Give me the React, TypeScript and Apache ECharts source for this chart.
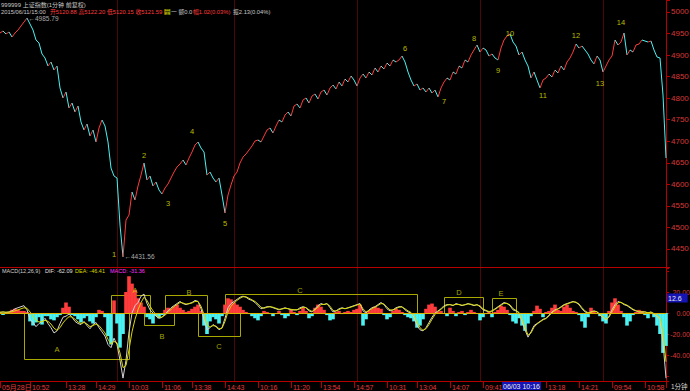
import React, { useEffect, useRef } from 'react';
import * as echarts from 'echarts';

// ---- price (1-minute closes, sampled) ----
const closes = [
  4951.2,4955.9,4948.9,4953.5,4941.9,4951.2,4958.2,4967.5,4976.7,4985.79,
  4972.1,4958.2,4935.0,4928.0,4902.5,4893.2,4874.6,4883.9,4865.3,4874.6,
  4823.6,4800.4,4814.3,4777.2,4788.8,4767.9,4781.8,4744.7,4726.1,4740.0,
  4712.2,4726.1,4698.3,4730.8,4749.3,4735.4,4698.3,4637.9,4619.4,4614.7,
  4505.6,4431.56,4517.2,4528.8,4582.2,4563.7,4596.2,4621.5,4649.5,4610.1,
  4619.4,4596.2,4605.4,4586.9,4577.6,4591.5,4600.8,4614.7,4628.6,4640.3,
  4647.2,4656.5,4644.9,4661.1,4675.1,4691.3,4698.3,4684.3,4675.1,4621.5,
  4628.6,4614.7,4605.4,4614.7,4575.3,4533.5,4575.3,4598.5,4619.4,4628.6,
  4649.5,4663.3,4670.5,4679.7,4689.0,4700.6,4702.9,4698.3,4712.2,4726.1,
  4730.8,4719.2,4735.4,4749.3,4744.7,4760.9,4767.9,4758.6,4781.8,4786.4,
  4777.2,4795.7,4800.4,4788.8,4805.0,4809.6,4798.0,4814.3,4818.9,4807.3,
  4823.6,4830.5,4821.3,4837.5,4828.2,4844.5,4837.5,4851.4,4842.1,4828.2,
  4846.8,4856.1,4846.8,4860.7,4853.7,4870.0,4860.7,4874.6,4867.7,4881.6,
  4874.6,4888.6,4883.9,4888.6,4897.8,4883.9,4860.7,4842.1,4828.2,4832.9,
  4818.9,4823.6,4814.3,4823.6,4812.0,4818.9,4802.7,4823.6,4837.5,4846.8,
  4842.1,4860.7,4856.1,4874.6,4870.0,4888.6,4883.9,4900.2,4911.8,4923.4,
  4907.1,4916.4,4911.8,4897.8,4902.5,4893.2,4888.6,4916.4,4935.0,4944.3,
  4948.9,4930.3,4921.0,4900.2,4907.1,4888.6,4874.6,4846.8,4860.7,4842.1,
  4823.6,4842.1,4846.8,4856.1,4849.1,4865.3,4858.4,4874.6,4865.3,4883.9,
  4893.2,4907.1,4925.7,4916.4,4921.0,4911.8,4902.5,4888.6,4879.3,4897.8,
  4888.6,4860.7,4874.6,4888.6,4897.8,4935.0,4923.4,4930.3,4951.2,4900.2,
  4911.8,4907.1,4923.4,4925.7,4935.0,4932.6,4930.3,4932.6,4911.8,4895.5,
  4893.2,4807.3,4661.1,
];

// ---- MACD(12,26,9) ----
const dif = [
  0.5,1,0.5,1,2,4,5,6,7,3,
  -6,-9,-13,-10,-8,-5,-10,-14,-19,-17,
  -10,-4,-3,-1,-4,-8,-10,-11,-8,-12,
  -15,-11,-9,-14,-18,-22,-30,-33,-24,-30,
  -45,-62,-45,-18,0,7,10,16,18,9,
  3,0,-3,-5,-4,-1,2,5,7,9,
  11,9,8,9,10,12,11,4,-6,-16,
  -14,-11,-13,-16,-14,-5,5,9,11,13,
  15,16,15,13,12,10,7,4,5,6,
  6,5,4,3,4,5,4,3,3,3,
  5,6,5,2,1,4,7,9,8,9,
  5,1,2,4,5,4,5,6,7,8,
  9,2,0,3,5,6,8,10,8,4,
  2,3,5,6,6,3,1,0,-4,-12,
  -16,-17,-14,-9,-4,0,2,4,7,8,
  8,7,9,8,7,8,9,8,7,8,
  6,3,2,1,2,4,6,8,10,9,
  7,3,2,0,-8,-16,-23,-18,-12,-10,
  -8,-6,-5,-2,1,3,4,6,8,9,
  10,11,10,8,4,1,0,1,2,1,
  -2,-4,-7,-3,3,8,11,10,8,7,
  5,3,2,1,1,1,0,1,-1,-3,
  -6,-28,-62.09,
];
const dea = [
  0.8,0.9,0.8,0.9,1.2,2,3,4,5,4.5,
  1,-3,-7,-8.5,-8.3,-7,-8,-10.5,-14.5,-16.5,
  -14,-9.5,-6,-3.5,-3.8,-6,-8.5,-10,-9,-10.5,
  -13,-12,-10.5,-12,-15.5,-19,-25,-29.5,-27,-28.5,
  -38,-52,-50,-35,-18,-6,3,10,15,12,
  6.5,2,-1.5,-4,-4,-2,0.5,3.5,6,8,
  10,9.5,8.5,8.8,9.5,11,11,6.5,-1.5,-11,
  -13.5,-12,-12.5,-15,-14.5,-8,1,6.5,9.5,12,
  14,15.5,15.5,14,12.5,11,8.5,5.5,4.5,5.5,
  6,5.5,4.5,3.5,3.8,4.5,4.2,3.5,3,3,
  4,5.5,5.2,3,1.5,3,5.5,8,8.2,8.8,
  6.5,2.5,1.8,3.2,4.6,4.2,4.8,5.6,6.6,7.6,
  8.6,4,1,2.2,4.2,5.5,7.2,9,8.5,5.5,
  3,2.8,4.2,5.5,5.8,4,2,0.5,-2.5,-8.5,
  -14,-16.5,-15,-11,-6,-1.5,1.5,3.5,6,7.5,
  8,7.4,8.2,8.2,7.4,7.8,8.6,8.4,7.4,7.8,
  6.8,4,2.5,1.4,1.8,3.4,5.4,7.4,9.2,9.2,
  7.8,4.2,2.4,0.6,-6,-13.5,-21,-19,-13.5,-10.5,
  -8.5,-6.5,-5.3,-2.8,0.2,2.4,3.8,5.4,7.4,8.6,
  9.6,10.6,10.4,8.6,5,2,0.3,0.6,1.7,1.2,
  -1,-3.4,-6,-4,1,6,9.8,10.2,8.6,7.5,
  5.6,3.6,2.2,1.2,1,1,0.3,0.8,-0.5,-2.2,
  -4.8,-18,-46.41,
];
const macdHist = [
  -1,-2,-1,1,3,4,3,2,2,1,
  -8,-12,-9,-4,-11,-3,-3,-6,-7,-4,
  -2,5,10,6,-2,-3,-6,-9,-5,-3,
  -8,-10,-4,3,2,-4,-22,-30,12,-10,
  -33,-20,20,35,28,22,14,10,6,-4,
  -6,-10,-3,-5,-2,3,5,4,6,8,
  5,3,1,2,4,6,8,2,-12,-20,
  -8,-4,-6,-10,-3,8,14,13,10,8,
  6,3,1,-1,-3,-5,-7,-3,2,1,
  -1,-3,-1,2,-2,-5,-3,3,1,-2,
  2,5,2,-5,-3,5,8,6,3,-2,
  -7,-6,1,2,-1,1,2,1,3,4,
  8,-12,-6,2,4,6,5,4,-2,-6,
  -4,2,4,3,1,-2,-4,-5,-8,-14,
  -12,-6,4,8,9,6,1,2,0,-3,
  5,2,-3,1,2,-2,1,3,1,-1,
  -7,-4,-1,1,-4,1,3,7,6,3,
  -2,-8,-10,-5,-12,-17,-10,-3,2,7,
  4,-4,1,2,5,8,3,2,6,8,
  5,2,1,-2,-8,-14,-4,5,2,-1,
  -3,-8,-10,2,10,14,8,2,-4,-12,
  -8,-2,1,3,2,-2,-5,-1,-4,-12,
  -20,-38,-31.36,
];

// ---- time axis ----
const timeLabelIdx = [0,10,22,32,43,54,64,75,86,97,107,118,129,139,150,161,182,193,204,215];
const timeLabelText = ['05月28日','10:52','13:28','14:29','10:03','11:06','13:38','14:43','10:16','11:20','13:54','14:57','10:31','13:04','14:07','09:41','13:18','14:21','09:54','10:58'];
const dayBreakIdx = [39, 78, 119, 160, 201];

// ---- wave count annotations ----
const waveText = ['1','2','3','4','5','6','7','8','9','10','11','12','13','14'];
const waveIdx = [38,48,56,64,75,135,148,158,166,170,181,192,200,207];
const waveVal = [4438.3,4668.1,4554.4,4723.8,4508.0,4916.4,4793.4,4937.3,4865.3,4951.2,4807.3,4944.3,4832.9,4976.7];

// ---- MACD boxes ----
const boxX1 = [8,37,48,55,66,75,148,164];
const boxX2 = [43,50,58,69,80,139,161,172];
const boxTop = [0,17,0,17,0,18,15,14];
const boxBottom = [-44,0,-11,0,-22,0,0,0];
const boxLetter = ['A','A','B','B','C','C','D','E'];
const boxLetterIdx = [19,45,54,63,73,100,153,167];
const boxLetterVal = [-35,21,-22,20,-32,21,20,19];

const RED = '#ff3c3c';
const CYAN = '#4af2f2';
const AXIS_RED = '#b40000';
const DAY_LINE = '#4a0808';
const FONT = "'Liberation Sans', 'Noto Sans CJK SC', sans-serif";

export default function App() {
  const ref = useRef<HTMLDivElement>(null);
  useEffect(() => {
    document.body.style.margin = '0';
    document.body.style.background = '#000';
    const chart = echarts.init(ref.current as HTMLDivElement, null, { renderer: 'svg' });
    const cats = closes.map((_, i) => String(i));
    const labelMap = new Map<number, string>(timeLabelIdx.map((ix, k) => [ix, timeLabelText[k]] as [number, string]));
    const tickSet = new Set<number>([...timeLabelIdx, 172, 222]);
    const daySet = new Set<number>(dayBreakIdx);
    const hiV = Math.max(...closes);
    const loV = Math.min(...closes);
    const hiIdx = closes.indexOf(hiV);
    const loIdx = closes.indexOf(loV);

    const txt = (x: number, y: number, text: string, fill: string, fontSize = 6, extra: any = {}) => ({
      type: 'text', x, y, z: 50,
      style: { text, fill, fontSize, fontFamily: FONT, verticalAlign: 'middle', align: 'left', ...extra },
    });

    const option: any = {
      animation: false,
      backgroundColor: '#000',
      textStyle: { fontFamily: FONT },
      grid: [
        { left: 0, right: 24, top: 0, height: 267, outerBoundsMode: 'none' },
        { left: 0, right: 24, top: 268, height: 113, outerBoundsMode: 'none' },
      ],
      xAxis: [
        {
          type: 'category', gridIndex: 0, data: cats, boundaryGap: false,
          axisLine: { show: true, onZero: false, lineStyle: { color: AXIS_RED, width: 1 } },
          axisTick: { show: false }, axisLabel: { show: false },
          splitLine: { show: true, interval: (i: number) => daySet.has(i), lineStyle: { color: DAY_LINE, width: 1 } },
        },
        {
          type: 'category', gridIndex: 1, data: cats, boundaryGap: false,
          axisLine: { show: true, onZero: false, lineStyle: { color: AXIS_RED, width: 1 } },
          axisTick: { show: true, interval: (i: number) => tickSet.has(i), length: 7, lineStyle: { color: AXIS_RED } },
          axisLabel: {
            show: true, interval: (i: number) => labelMap.has(i),
            formatter: (v: string) => labelMap.get(Number(v)) || '',
            color: '#e23c3c', fontSize: 7, fontFamily: FONT, align: 'left', margin: 3, padding: [0, 0, 0, 2],
          },
          splitLine: { show: true, interval: (i: number) => daySet.has(i), lineStyle: { color: DAY_LINE, width: 1 } },
        },
      ],
      yAxis: [
        {
          type: 'value', gridIndex: 0, position: 'right', min: 4408.2, max: 5027.8, splitNumber: 12, scale: true,
          axisLine: { show: true, lineStyle: { color: AXIS_RED, width: 1 } },
          axisTick: { show: true, length: 4, lineStyle: { color: AXIS_RED } },
          axisLabel: {
            color: '#d83838', fontSize: 8, fontFamily: FONT, margin: 5,
            formatter: (v: number) => (Math.abs(v - Math.round(v / 50) * 50) < 1e-6 ? String(Math.round(v)) : ''),
          },
          splitLine: { show: false },
        },
        {
          type: 'value', gridIndex: 1, position: 'right', min: -64.76, max: 42.86, splitNumber: 5,
          axisLine: { show: true, lineStyle: { color: AXIS_RED, width: 1 } },
          axisTick: { show: true, length: 3, lineStyle: { color: AXIS_RED } },
          axisLabel: {
            color: '#d83838', fontSize: 7, fontFamily: FONT, margin: 24, align: 'right',
            formatter: (v: number) => {
              const r = Math.round(v);
              if (Math.abs(v - r) > 1e-6 || r % 20 !== 0 || r === 40 || r === -60) return '';
              return r.toFixed(2);
            },
          },
          splitLine: { show: false },
        },
      ],
      series: [
        {
          type: 'custom', name: 'price', xAxisIndex: 0, yAxisIndex: 0, silent: true,
          data: closes.map((c, i) => [i, c]),
          encode: { x: 0, y: 1 },
          renderItem: (params: any, api: any) => {
            const i = params.dataIndex;
            if (i === 0) return { type: 'group', children: [] };
            const a = api.coord([i - 1, closes[i - 1]]);
            const b = api.coord([i, closes[i]]);
            return {
              type: 'line',
              shape: { x1: a[0], y1: a[1], x2: b[0], y2: b[1] },
              style: { stroke: closes[i] >= closes[i - 1] ? RED : CYAN, lineWidth: 1 },
            };
          },
        },
        {
          type: 'scatter', name: 'waves', xAxisIndex: 0, yAxisIndex: 0, silent: true, symbolSize: 1,
          itemStyle: { color: 'rgba(0,0,0,0)' },
          data: waveIdx.map((x, k) => ({ value: [x, waveVal[k]], name: waveText[k] })),
          label: { show: true, position: 'inside', formatter: '{b}', color: '#e6e600', fontSize: 7.5, fontFamily: FONT },
        },
        {
          type: 'scatter', name: 'extremes', xAxisIndex: 0, yAxisIndex: 0, silent: true, symbolSize: 1,
          itemStyle: { color: 'rgba(0,0,0,0)' },
          data: [
            { value: [hiIdx, hiV], name: '←' + hiV.toFixed(2) },
            { value: [loIdx, loV], name: '←' + loV.toFixed(2) },
          ],
          label: { show: true, position: 'right', distance: 1, formatter: '{b}', color: '#d8d8d8', fontSize: 6.5, fontFamily: FONT },
        },
        {
          type: 'bar', name: 'MACD', xAxisIndex: 1, yAxisIndex: 1, silent: true,
          data: macdHist, barWidth: 3.6,
          itemStyle: { color: (p: any) => (p.value >= 0 ? RED : CYAN) },
          markLine: {
            silent: true, symbol: ['none', 'none'], label: { show: false },
            lineStyle: { color: '#d8b400', width: 1, type: 'solid' },
            data: [{ yAxis: 0 }],
          },
        },
        {
          type: 'custom', name: 'boxes', xAxisIndex: 1, yAxisIndex: 1, silent: true,
          data: boxX1.map((x1, k) => [x1, boxTop[k]]),
          encode: { x: 0, y: 1 },
          renderItem: (params: any, api: any) => {
            const k = params.dataIndex;
            const a = api.coord([boxX1[k], boxTop[k]]);
            const b = api.coord([boxX2[k], boxBottom[k]]);
            return {
              type: 'rect',
              shape: { x: Math.round(a[0]) + 0.5, y: Math.round(a[1]) + 0.5, width: Math.round(b[0] - a[0]), height: Math.round(b[1] - a[1]) },
              style: { fill: 'none', stroke: '#a8a800', lineWidth: 1 },
            };
          },
        },
        {
          type: 'line', name: 'DIF', xAxisIndex: 1, yAxisIndex: 1, silent: true, data: dif,
          symbol: 'none', lineStyle: { color: '#d4d4d4', width: 1 },
        },
        {
          type: 'line', name: 'DEA', xAxisIndex: 1, yAxisIndex: 1, silent: true, data: dea,
          symbol: 'none', lineStyle: { color: '#d8d800', width: 1 },
        },
        {
          type: 'scatter', name: 'boxLetters', xAxisIndex: 1, yAxisIndex: 1, silent: true, symbolSize: 1,
          itemStyle: { color: 'rgba(0,0,0,0)' },
          data: boxLetterIdx.map((x, k) => ({ value: [x, boxLetterVal[k]], name: boxLetter[k] })),
          label: { show: true, position: 'inside', formatter: '{b}', color: '#d0d000', fontSize: 7.5, fontFamily: FONT },
        },
      ],
      graphic: [
        txt(1, 4.5, '999999 上证指数(1分钟 前复权)', '#c8c8c8'),
        txt(1, 12, '2015/06/11/15:00', '#c8c8c8', 5.8),
        txt(50, 12, '开5120.88', RED, 5.8),
        txt(78.5, 12, '高5122.20', RED, 5.8),
        txt(107, 12, '低5120.15', RED, 5.8),
        txt(135.5, 12, '收5121.59', RED, 5.8),
        txt(164.5, 12, '量', '#202000', 5.8, { backgroundColor: '#c8c800' }),
        txt(171, 12, '一 额0.0', '#c8c8c8', 5.8),
        txt(193, 12, '幅1.02(0.03%)', RED, 5.8),
        txt(233, 12, '振2.13(0.04%)', '#c8c8c8', 5.8),
        txt(2, 271, 'MACD(12,26,9)', '#d0d0d0', 5.5),
        txt(45, 271, 'DIF: -62.09', '#e0e0e0', 5.5),
        txt(75, 271, 'DEA: -46.41', '#d8d800', 5.5),
        txt(110, 271, 'MACD: -31.36', '#ff30ff', 5.5),
        txt(667, 298, '12.6', '#e8e8e8', 7, { backgroundColor: '#1414b4', padding: [1, 6, 1, 1] }),
        txt(502, 386, '06/03 10:16', '#e8e8e8', 7, { backgroundColor: '#1414b4', padding: [1, 1, 0, 1] }),
        txt(671, 386, '1分钟', '#d8d8d8', 6.5),
      ],
    };
    chart.setOption(option);
    return () => chart.dispose();
  }, []);
  return <div ref={ref} style={{ width: 690, height: 391, background: '#000' }} />;
}
